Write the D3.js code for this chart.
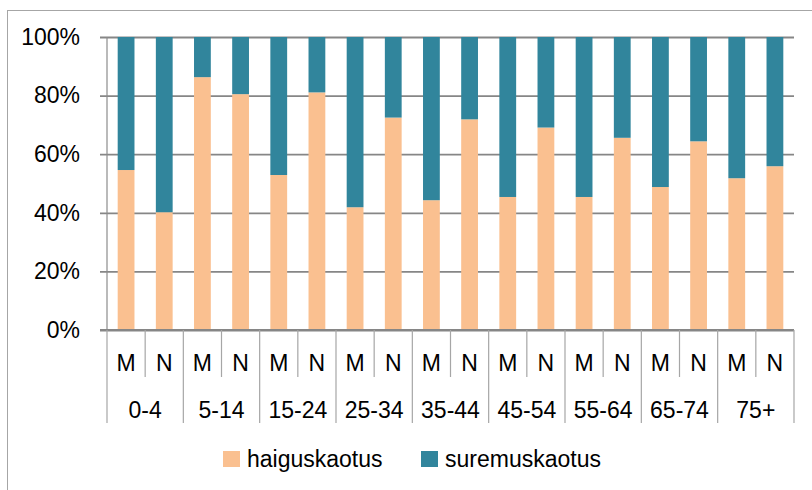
<!DOCTYPE html>
<html>
<head>
<meta charset="utf-8">
<script src="https://cdn.jsdelivr.net/npm/d3@7"></script>
<style>
  body { margin: 0; background: #fff; }
  text { font-family: "Liberation Sans", Arial, sans-serif; fill: #000; }
</style>
</head>
<body>
<script>
const w = 812;
const h = 490;

// age groups and sexes (M = mehed, N = naised)
const ageGroups = ["0-4", "5-14", "15-24", "25-34", "35-44", "45-54", "55-64", "65-74", "75+"];
const sexes = ["M", "N"];
const seriesNames = ["haiguskaotus", "suremuskaotus"];
const yTicks = [0, 0.2, 0.4, 0.6, 0.8, 1];

// shares in %, order: 0-4 M, 0-4 N, 5-14 M, ...
const haiguskaotus = [54.6, 40.2, 86.3, 80.5, 52.9, 81.1, 41.9, 72.5, 44.3, 71.9, 45.4, 69.1, 45.4, 65.6, 48.8, 64.4, 51.8, 55.9];
const suremuskaotus = [45.4, 59.8, 13.7, 19.5, 47.1, 18.9, 58.1, 27.5, 55.7, 28.1, 54.6, 30.9, 54.6, 34.4, 51.2, 35.6, 48.2, 44.1];

const colors = { haiguskaotus: "#FAC090", suremuskaotus: "#31859C" };

const rows = [];
ageGroups.forEach((g, gi) => {
  sexes.forEach((s, si) => {
    const i = gi * sexes.length + si;
    rows.push({ key: g + "|" + s, group: g, sex: s, haiguskaotus: haiguskaotus[i], suremuskaotus: suremuskaotus[i] });
  });
});

const plotL = 107, plotR = 794, plotT = 37, plotB = 330;
const fs = 23;

const svg = d3.select("body")
  .append("svg")
  .attr("width", w)
  .attr("height", h);

// chart border
svg.append("rect")
  .attr("x", 7.5).attr("y", 10.5)
  .attr("width", 820).attr("height", 500)
  .attr("fill", "none")
  .attr("stroke", "#a6a6a6")
  .attr("stroke-width", 1);

const x = d3.scaleBand()
  .domain(rows.map(d => d.key))
  .range([plotL, plotR])
  .padding(0);

const xGroup = d3.scaleBand()
  .domain(ageGroups)
  .range([plotL, plotR])
  .padding(0);

const y = d3.scaleLinear()
  .domain([0, 1])
  .range([plotB, plotT]);

// gridlines + y axis
const yAxis = d3.axisLeft(y)
  .tickValues(yTicks)
  .tickFormat(d3.format(".0%"))
  .tickSize(-(plotR - plotL))
  .tickPadding(27);

const gy = svg.append("g")
  .attr("transform", "translate(" + plotL + ",0)")
  .call(yAxis);
gy.select(".domain").remove();
gy.selectAll(".tick line")
  .attr("x1", -7)
  .attr("stroke", "#868686")
  .attr("stroke-width", 1.8);
gy.selectAll(".tick text")
  .attr("font-size", fs)
  .attr("font-family", "Liberation Sans, Arial, sans-serif")
  .attr("fill", "#000");

// y axis line
svg.append("line")
  .attr("x1", plotL).attr("x2", plotL)
  .attr("y1", plotT).attr("y2", plotB)
  .attr("stroke", "#8c8c8c")
  .attr("stroke-width", 1.2);

// stacked bars
const stack = d3.stack().keys(seriesNames).offset(d3.stackOffsetExpand);
const stacked = stack(rows);
const barW = x.bandwidth() * 0.44;

svg.append("g")
  .selectAll("g")
  .data(stacked)
  .join("g")
  .attr("fill", d => colors[d.key])
  .selectAll("rect")
  .data(d => d)
  .join("rect")
  .attr("x", d => x(d.data.key) + (x.bandwidth() - barW) / 2)
  .attr("width", barW)
  .attr("y", d => y(d[1]))
  .attr("height", d => y(d[0]) - y(d[1]));

// bottom axis line
svg.append("line")
  .attr("x1", plotL - 7).attr("x2", plotR)
  .attr("y1", plotB).attr("y2", plotB)
  .attr("stroke", "#868686")
  .attr("stroke-width", 1.8);

// category separators
const xg = svg.append("g").attr("stroke", "#a6a6a6").attr("stroke-width", 1.2);
rows.forEach((d, i) => {
  if (i % 2 === 1) {
    xg.append("line")
      .attr("x1", x(d.key)).attr("x2", x(d.key))
      .attr("y1", plotB).attr("y2", 377);
  }
});
ageGroups.concat(["end"]).forEach(g => {
  const xx = g === "end" ? plotR : xGroup(g);
  xg.append("line")
    .attr("x1", xx).attr("x2", xx)
    .attr("y1", plotB).attr("y2", 423);
});

// sex labels
svg.append("g")
  .selectAll("text")
  .data(rows)
  .join("text")
  .attr("x", d => x(d.key) + x.bandwidth() / 2)
  .attr("y", 371)
  .attr("text-anchor", "middle")
  .attr("font-size", fs)
  .text(d => d.sex);

// age group labels
svg.append("g")
  .selectAll("text")
  .data(ageGroups)
  .join("text")
  .attr("x", d => xGroup(d) + xGroup.bandwidth() / 2)
  .attr("y", 418)
  .attr("text-anchor", "middle")
  .attr("font-size", fs)
  .text(d => d);

// legend
const legendX = [223, 421];
const legend = svg.append("g");
seriesNames.forEach((s, i) => {
  legend.append("rect")
    .attr("x", legendX[i]).attr("y", 451)
    .attr("width", 17).attr("height", 16)
    .attr("fill", colors[s]);
  legend.append("text")
    .attr("x", legendX[i] + 24)
    .attr("y", 467)
    .attr("font-size", fs)
    .text(s);
});
</script>
</body>
</html>
